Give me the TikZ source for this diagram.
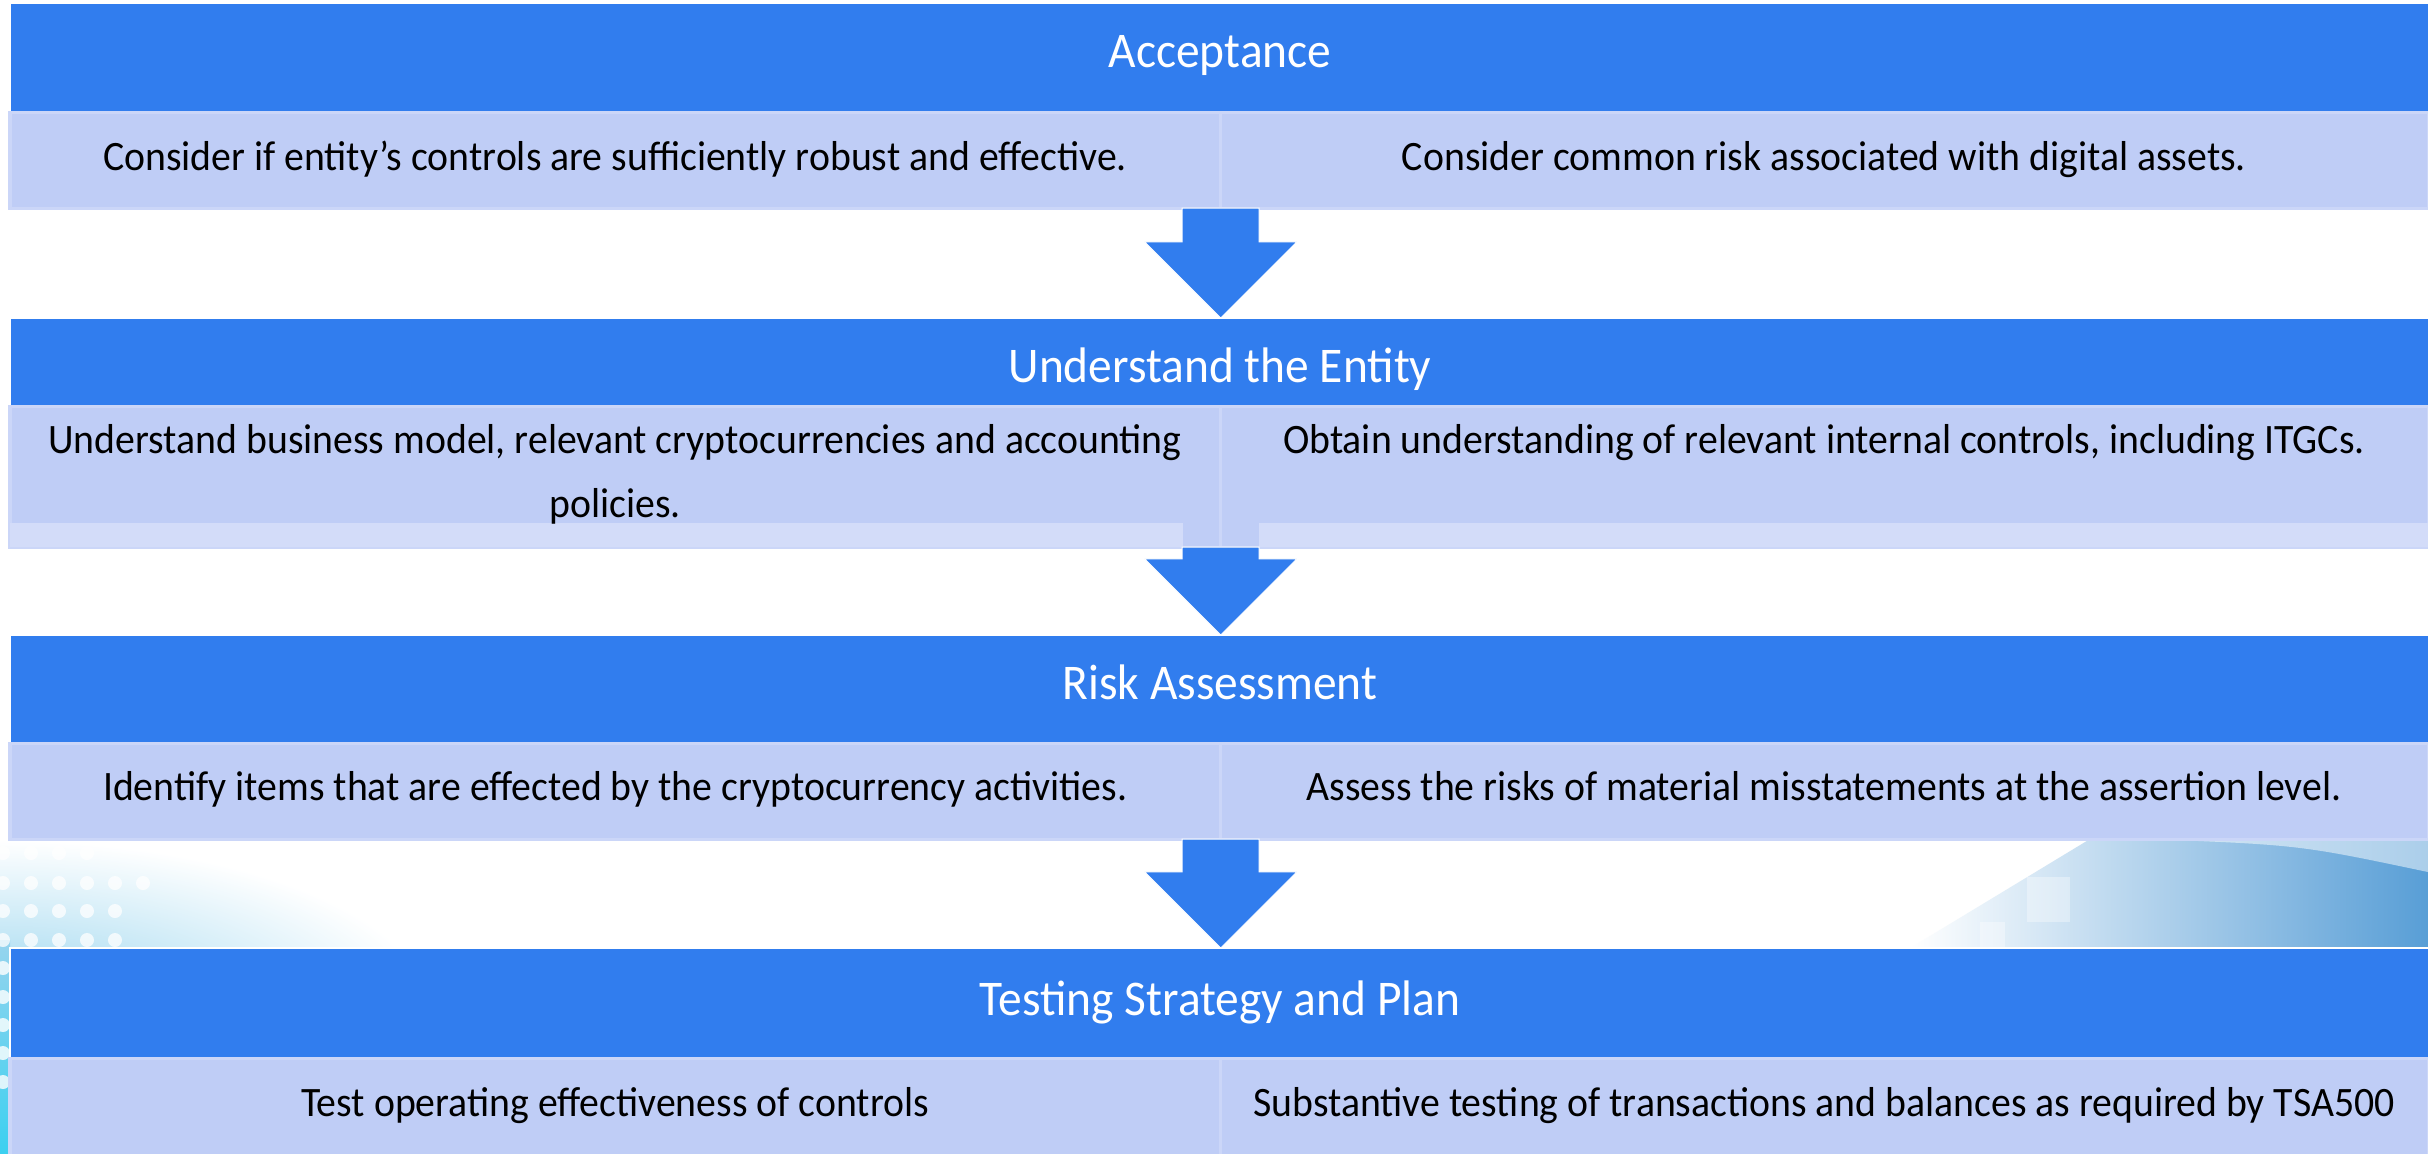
\documentclass[tikz,border=0pt]{standalone}
\usepackage{fontspec}
\setmainfont{Carlito}[FakeStretch=0.95]
\usetikzlibrary{calc}
\definecolor{hblue}{RGB}{49,125,238}
\definecolor{rowc}{RGB}{191,205,246}
\definecolor{stripc}{RGB}{211,220,249}
\definecolor{edgec}{RGB}{203,214,248}
\definecolor{cyanA}{RGB}{150,212,238}
\definecolor{cyanB}{RGB}{60,208,240}
\definecolor{swoosh}{RGB}{88,158,214}
\tikzset{
  hdr/.style={fill=hblue, draw=white, line width=0.02cm, inner sep=0pt, outer sep=0pt, anchor=north west},
  cell/.style={fill=rowc, draw=edgec, line width=0.03cm, inner sep=0pt, outer sep=0pt, anchor=north west},
  stripbox/.style={fill=stripc, draw=none, inner sep=0pt, outer sep=0pt, anchor=north west},
  htext/.style={text=white, font=\fontsize{14.2pt}{17pt}\selectfont, inner sep=0pt, anchor=base},
  btext/.style={text=black, font=\fontsize{11.9pt}{18.2pt}\selectfont, inner sep=0pt, anchor=base, align=center},
  barrow/.style={fill=hblue, draw=white, line width=0.01cm},
  dot/.style={fill=white, draw=none}
}
\newcommand{\blockarrow}[2]{%
  \path[barrow] let \p1=(#1), \p2=(#2) in
    (\x1-0.385cm,\y1) -- (\x1+0.385cm,\y1) -- (\x1+0.385cm,\y2+0.76cm)
    -- (\x1+0.76cm,\y2+0.76cm) -- (\x1,\y2) -- (\x1-0.76cm,\y2+0.76cm)
    -- (\x1-0.385cm,\y2+0.76cm) -- cycle;}
\begin{document}
\begin{tikzpicture}[x=0.01cm,y=-0.01cm]
\useasboundingbox (0,0) rectangle (2428,1153);
\fill[white] (0,0) rectangle (2428,1153);

% background decoration, bottom left
\begin{scope}
  \clip (0,839) rectangle (700,1153);
  \shade[inner color=cyanA, outer color=white] (0,1010) ellipse (430 and 170);
\end{scope}
\shade[top color=cyanA, bottom color=cyanB] (0,940) rectangle (10,1153);
\foreach \y/\n in {853/4,883/6,911/5,940/5}{
  \foreach \i in {1,...,\n}{
    \fill[dot, opacity=0.75] ({3+28*(\i-1)},\y) circle (7);
  }
}
\foreach \y in {968,997,1025,1053,1082}{
  \fill[dot, opacity=0.8] (3,\y) circle (7);
}
% background decoration, right
\shade[left color=white, right color=swoosh] (1910,948) -- (2090,839) -- (2428,839) -- (2428,948) -- cycle;
\fill[white, opacity=0.5] (2150,839) .. controls (2300,845) .. (2428,872) -- (2428,839) -- cycle;
\fill[white, opacity=0.35] (2027,877) rectangle (2070,922);
\fill[white, opacity=0.35] (1980,922) rectangle (2005,948);

% stage 1
\node[hdr, minimum width=24.18cm, minimum height=1.09cm] (h1) at (10,3) {};
\node[htext] (h1t) at (1220,67) {Acceptance};
\node[cell, minimum width=12.10cm, minimum height=0.96cm] (r1L) at (10,112) {};
\node[cell, minimum width=12.08cm, minimum height=0.96cm] (r1R) at (1220,112) {};
\node[btext] (r1Lt) at (615,170) {Consider if entity’s controls are sufficiently robust and effective.};
\node[btext] (r1Rt) at (1824,170) {Consider common risk associated with digital assets.};

% stage 2
\node[hdr, minimum width=24.18cm, minimum height=0.88cm] (h2) at (10,318) {};
\node[htext] (h2t) at (1220,382) {Understand the Entity};
\node[cell, minimum width=12.10cm, minimum height=1.41cm] (r2L) at (10,406) {};
\node[cell, minimum width=12.08cm, minimum height=1.41cm] (r2R) at (1220,406) {};
\node[stripbox, minimum width=11.72cm, minimum height=0.24cm] (s2L) at (10,523) {};
\node[stripbox, minimum width=11.69cm, minimum height=0.24cm] (s2R) at (1259,523) {};
\node[btext] (r2Lt) at (615,517) {Understand business model, relevant cryptocurrencies and accounting\\policies.};
\node[btext] (r2Rt) at (1824,453) {Obtain understanding of relevant internal controls, including ITGCs.};

% stage 3
\node[hdr, minimum width=24.18cm, minimum height=1.08cm] (h3) at (10,635) {};
\node[htext] (h3t) at (1220,699) {Risk Assessment};
\node[cell, minimum width=12.10cm, minimum height=0.96cm] (r3L) at (10,743) {};
\node[cell, minimum width=12.08cm, minimum height=0.96cm] (r3R) at (1220,743) {};
\node[btext] (r3Lt) at (615,800) {Identify items that are effected by the cryptocurrency activities.};
\node[btext] (r3Rt) at (1824,800) {Assess the risks of material misstatements at the assertion level.};

% stage 4
\node[hdr, minimum width=24.18cm, minimum height=1.10cm] (h4) at (10,948) {};
\node[htext] (h4t) at (1220,1015) {Testing Strategy and Plan};
\node[cell, minimum width=12.10cm, minimum height=0.97cm] (r4L) at (10,1058) {};
\node[cell, minimum width=12.08cm, minimum height=0.97cm] (r4R) at (1220,1058) {};
\node[btext] (r4Lt) at (615,1116) {Test operating effectiveness of controls};
\node[btext] (r4Rt) at (1824,1116) {Substantive testing of transactions and balances as required by TSA500};

% arrows
\blockarrow{r1L.south east}{h2.north}
\blockarrow{r2L.south east}{h3.north}
\blockarrow{r3L.south east}{h4.north}
\end{tikzpicture}
\end{document}
